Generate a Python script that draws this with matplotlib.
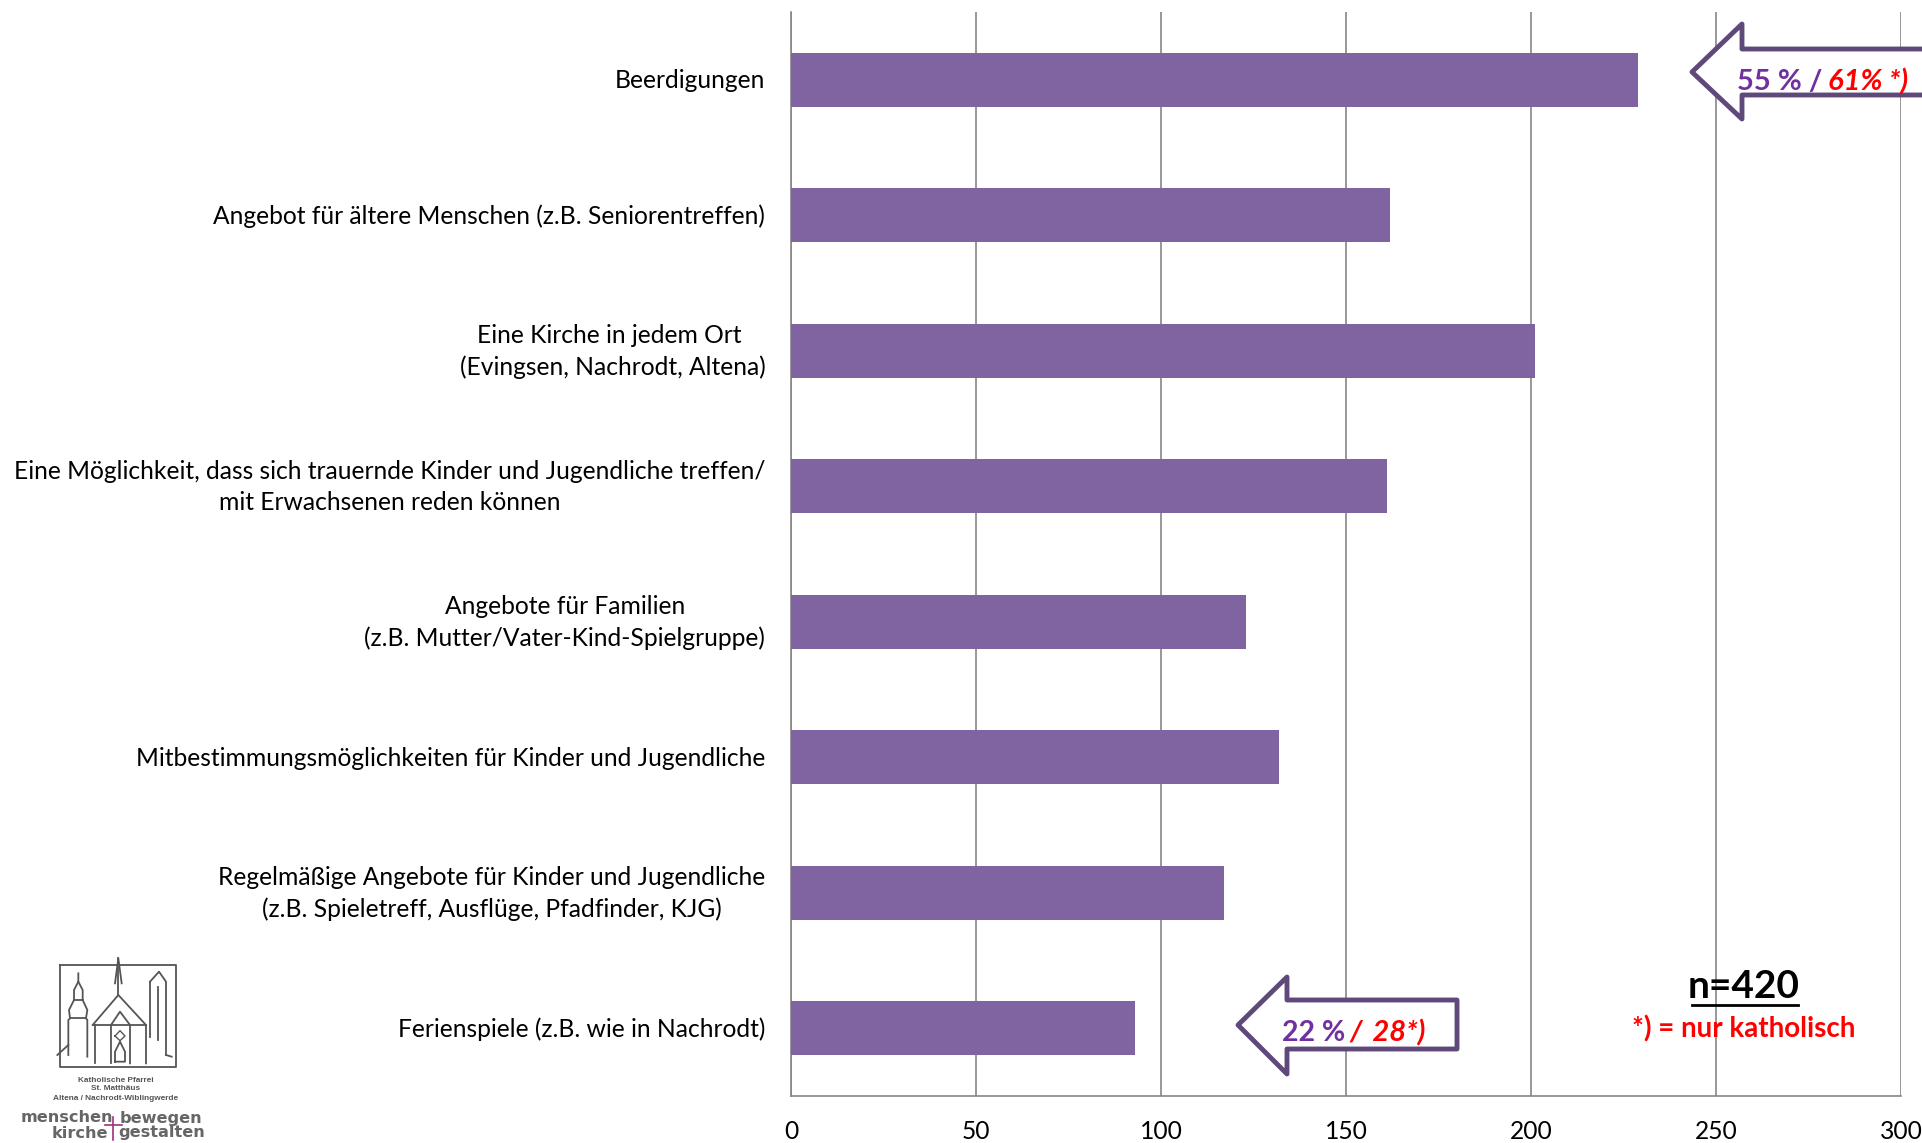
#!/usr/bin/env python3
import matplotlib
matplotlib.use("Agg")
import matplotlib.pyplot as plt
from matplotlib.patches import Polygon
from matplotlib.transforms import ScaledTranslation

plt.rcParams["font.family"] = ["Lato", "DejaVu Sans"]

categories = [
    "Beerdigungen",
    "Angebot für ältere Menschen (z.B. Seniorentreffen)",
    "Eine Kirche in jedem Ort \n(Evingsen, Nachrodt, Altena)",
    "Eine Möglichkeit, dass sich trauernde Kinder und Jugendliche treffen/\nmit Erwachsenen reden können",
    "Angebote für Familien\n(z.B. Mutter/Vater-Kind-Spielgruppe)",
    "Mitbestimmungsmöglichkeiten für Kinder und Jugendliche",
    "Regelmäßige Angebote für Kinder und Jugendliche\n(z.B. Spieletreff, Ausflüge, Pfadfinder, KJG)",
    "Ferienspiele (z.B. wie in Nachrodt)",
]
values = [229, 162, 201, 161, 123, 132, 117, 93]
xticks = [0, 50, 100, 150, 200, 250, 300]

BAR = "#8064A2"
ARROW = "#5F497A"
GRID = "#868686"
PURPLE = "#7030A0"
RED = "#FF0000"
W, H = 1922, 1143

fig = plt.figure(figsize=(W / 100, H / 100), dpi=100)
ax = fig.add_axes([791 / W, 1 - 1096 / H, (1901 - 791) / W, (1096 - 12) / H])
ypos = list(range(len(categories)))
ax.barh(ypos, values, height=0.4, color=BAR, zorder=3)
ax.set_xlim(0, 300)
ax.set_ylim(len(categories) - 0.5, -0.5)
ax.set_xticks(xticks)
ax.set_yticks(ypos, categories, multialignment="center", linespacing=1.42)
ax.tick_params(axis="y", length=0, pad=18.5, labelsize=17.7, labelcolor="black")
ax.tick_params(axis="x", length=0, pad=17, labelsize=17.7, labelcolor="black")
ax.grid(axis="x", color=GRID, lw=1.2, zorder=1)
ax.set_axisbelow(True)
for s in ("top", "right"):
    ax.spines[s].set_visible(False)
for s in ("left", "bottom"):
    ax.spines[s].set_color(GRID)
    ax.spines[s].set_linewidth(1.2)

# the two-line labels sit a little too low otherwise
for lab in ax.get_yticklabels():
    up = 5 if "\n" in lab.get_text() else 1
    lab.set_transform(lab.get_transform() + ScaledTranslation(0, up / 100, fig.dpi_scale_trans))

# overlay in pixel coordinates for the callouts and the logo
ov = fig.add_axes([0, 0, 1, 1], facecolor="none", zorder=5)
ov.set_xlim(0, W)
ov.set_ylim(H, 0)
ov.axis("off")

top_arrow = [(1692, 72), (1742, 24), (1742, 49), (1935, 49), (1935, 95), (1742, 95), (1742, 119)]
low_arrow = [(1238, 1025), (1287, 977), (1287, 1000), (1457, 1000), (1457, 1049), (1287, 1049), (1287, 1074)]
for pts in (top_arrow, low_arrow):
    ov.add_patch(Polygon(pts, closed=True, facecolor="white", edgecolor=ARROW, lw=3.5, joinstyle="round", zorder=2))

ov.text(1737, 82, "55 % / ", color=PURPLE, fontsize=21, fontweight="bold", va="center", ha="left", zorder=3)
ov.text(1828, 82, "61% *)", color=RED, fontsize=21, fontweight="bold", style="italic", va="center", ha="left", zorder=3)
ov.text(1282, 1033, "22 %", color=PURPLE, fontsize=20.5, fontweight="bold", va="center", ha="left", zorder=3)
ov.text(1349, 1033, "/", color=RED, fontsize=21, fontweight="bold", style="italic", va="center", ha="left", zorder=3)
ov.text(1366, 1033, " 28*)", color=RED, fontsize=21, fontweight="bold", style="italic", va="center", ha="left", zorder=3)

ov.text(1744, 987, "n=420", color="black", fontsize=28, fontweight="bold", va="center", ha="center", zorder=3)
ov.plot([1692, 1798], [1005, 1005], color="black", lw=2, zorder=3)
ov.text(1744, 1029, "*) = nur katholisch", color=RED, fontsize=20, fontweight="bold", va="center", ha="center", zorder=3)

# logo sketch, traced in zoomed crop coordinates
def lx(v):
    return v / 3


def ly(v):
    return 940 + v / 3


logo_lines = [
    [(180, 75), (527, 75), (527, 380), (180, 380), (180, 75)],
    [(235, 100), (235, 125), (222, 150), (222, 180), (207, 210), (210, 235), (205, 240), (205, 345)],
    [(235, 125), (248, 150), (248, 180), (262, 210), (258, 235), (262, 240), (262, 350)],
    [(222, 180), (248, 180)],
    [(210, 235), (258, 235)],
    [(172, 345), (205, 315)],
    [(278, 255), (355, 165), (438, 255), (438, 370)],
    [(278, 255), (438, 255)],
    [(285, 255), (285, 370)],
    [(355, 165), (355, 55)],
    [(345, 130), (355, 55), (365, 130)],
    [(333, 255), (360, 215), (390, 255), (390, 370)],
    [(333, 255), (333, 370)],
    [(345, 365), (345, 335), (360, 305), (375, 335), (375, 365), (345, 365)],
    [(450, 125), (477, 95), (498, 125), (498, 345)],
    [(450, 125), (450, 290)],
    [(475, 140), (475, 300)],
    [(498, 345), (515, 350)],
]
for seg in logo_lines:
    ov.plot([lx(p[0]) for p in seg], [ly(p[1]) for p in seg], color="#555555", lw=1.3, zorder=3)
circle_x = [345, 360, 375, 360, 345]
circle_y = [288, 272, 288, 302, 288]
ov.plot([lx(v) for v in circle_x], [ly(v) for v in circle_y], color="#555555", lw=1.0, zorder=3)

for txt, y in (("Katholische Pfarrei", 1080), ("St. Matthäus", 1089), ("Altena / Nachrodt-Wiblingwerde", 1099)):
    ov.text(116, y, txt, color="#555555", fontsize=5.95, fontweight="bold", family="Liberation Sans", ha="center", va="center")
ov.text(113, 1118, "menschen", color="#666666", fontsize=11.6, fontweight="bold", family="DejaVu Sans", ha="right", va="center")
ov.text(120, 1118, "bewegen", color="#666666", fontsize=11.6, fontweight="bold", family="DejaVu Sans", ha="left", va="center")
ov.text(108, 1133, "kirche", color="#666666", fontsize=11.6, fontweight="bold", family="DejaVu Sans", ha="right", va="center")
ov.text(118, 1133, "gestalten", color="#666666", fontsize=11.6, fontweight="bold", family="DejaVu Sans", ha="left", va="center")
ov.plot([113, 113], [1117, 1140], color="#A0307A", lw=1.2)
ov.plot([105, 122], [1125, 1125], color="#A0307A", lw=1.2)

fig.savefig("out.png", dpi=100)
